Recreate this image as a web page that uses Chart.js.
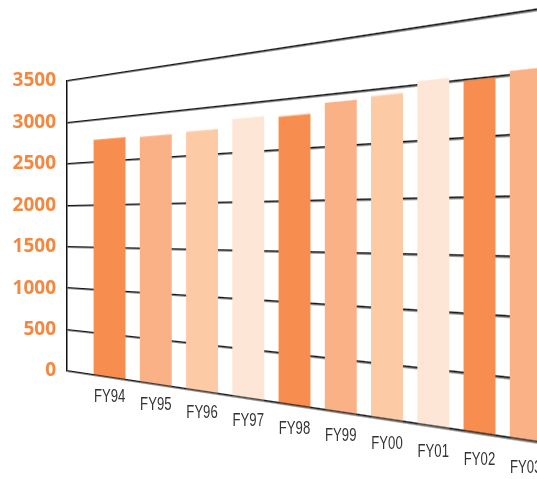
<!DOCTYPE html>
<html>
<head>
<meta charset="utf-8">
<script src="https://cdn.jsdelivr.net/npm/chart.js@4.4.1/dist/chart.umd.min.js"></script>
<style>
  html, body { margin: 0; padding: 0; background: #fff; }
  #view { display: block; }
  #flatWrap { position: absolute; left: -3000px; top: 0; }
</style>
</head>
<body>
<canvas id="view" width="537" height="479"></canvas>
<div id="flatWrap"><canvas id="flat" width="580" height="479"></canvas></div>
<script>
// --- data ---
const years = ['FY94', 'FY95', 'FY96', 'FY97', 'FY98', 'FY99', 'FY00', 'FY01', 'FY02', 'FY03'];
const totals = [2760, 2750, 2760, 2850, 2830, 2920, 2940, 3030, 2990, 3030];
const yMin = 0, yMax = 3500, yStep = 500;

// --- look ---
const TILT = 0.001044;   // extra vertical scale per px right of the axis
const barColors = ['#F78D4E', '#FAB185', '#FDCAA6', '#FEE6D6'];
const labelOrange = '#F5873F';
const lineColor = '#111';

function stretchAt(x, left) {
    return x <= left ? 1 : 1 + (x - left) * TILT;
}

// copies the flat chart column by column onto the visible canvas,
// each column stretched about the plot's vertical centre
const warpPlugin = {
    id: 'warp',
    afterRender: function(chart) {
        const view = document.getElementById('view');
        const ctx = view.getContext('2d');
        const src = chart.canvas;
        const area = chart.chartArea;
        const cy = (area.top + area.bottom) / 2;

        ctx.fillStyle = '#fff';
        ctx.fillRect(0, 0, view.width, view.height);
        for (let x = 0; x < view.width; x++) {
            const s = stretchAt(x + 0.5, area.left);
            ctx.drawImage(src, x, 0, 1, src.height, x, cy - cy * s, 1, src.height * s);
        }

        // category labels ride along the tilted baseline but stay upright
        const xs = chart.scales.x;
        const base = chart.scales.y.getPixelForValue(yMin) + 18.5;
        ctx.font = '19px "Liberation Sans", sans-serif';
        ctx.fillStyle = '#333';
        ctx.textAlign = 'center';
        ctx.textBaseline = 'middle';
        years.forEach((lab, i) => {
            const px = xs.getPixelForValue(i);
            const s = stretchAt(px, area.left);
            ctx.save();
            ctx.translate(px, cy + (base - cy) * s);
            ctx.scale(0.69, 1);   // condensed face
            ctx.fillText(lab, 0, 0);
            ctx.restore();
        });
    }
};

new Chart(document.getElementById('flat').getContext('2d'), {
    type: 'bar',
    data: {
        datasets: [{
            data: totals.map((v, i) => ({ x: i, y: v })),
            backgroundColor: totals.map((v, i) => barColors[i % barColors.length]),
            borderWidth: 0,
            categoryPercentage: 1,
            barPercentage: 0.69
        }]
    },
    options: {
        responsive: false,
        animation: false,
        devicePixelRatio: 1,
        events: [],
        layout: { padding: { top: 81, bottom: 108, left: 0, right: 8 } },
        plugins: { legend: { display: false }, tooltip: { enabled: false } },
        scales: {
            x: {
                type: 'linear',
                display: false,
                offset: false,
                min: -0.92,
                max: 10
            },
            y: {
                min: yMin,
                max: yMax,
                afterFit: (s) => { s.width = 67; },
                grid: { color: lineColor, lineWidth: 1.5, drawTicks: false },
                border: { display: true, color: lineColor, width: 1.5 },
                ticks: {
                    stepSize: yStep,
                    padding: 11,
                    color: labelOrange,
                    callback: (v) => String(v),
                    font: { family: '"Open Sans", sans-serif', size: 19, weight: 'bold' }
                }
            }
        }
    },
    plugins: [warpPlugin]
});
</script>
</body>
</html>
